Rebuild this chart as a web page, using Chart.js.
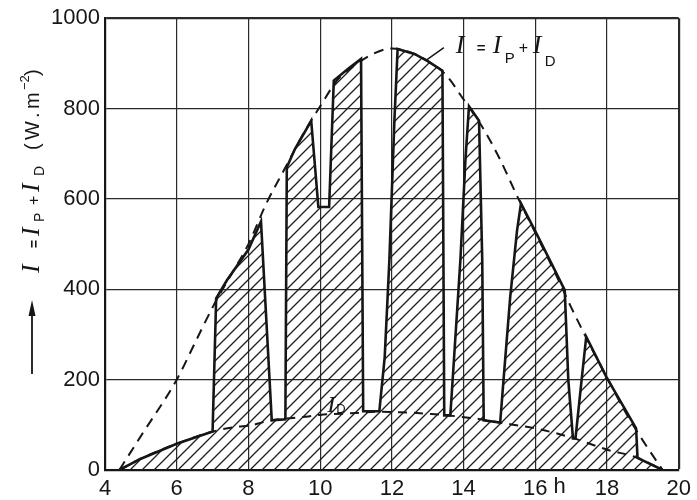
<!DOCTYPE html>
<html>
<head>
<meta charset="utf-8">
<script src="https://cdn.jsdelivr.net/npm/chart.js@4.4.1/dist/chart.umd.min.js"></script>
<style>
  html, body { margin: 0; padding: 0; background: #ffffff; }
  #wrap { width: 697px; height: 500px; position: relative; }
</style>
</head>
<body>
<div id="wrap"><canvas id="c" width="697" height="500"></canvas></div>
<script>
// Clear-sky global irradiance envelope, I = I_P + I_D (W/m²) vs. hour of day
const clearHours = [4.4, 5, 6, 6.5, 7, 7.5, 8, 8.5, 9, 9.5, 10, 10.5, 11, 11.5, 12, 12.5, 13, 13.5, 14, 14.5, 15, 15.5, 16, 16.5, 17, 17.5, 18, 18.5, 19, 19.55];
const clearIrradiance = [0, 75, 200, 280, 360, 430, 500, 590, 665, 740, 805, 865, 898, 922, 933, 925, 905, 875, 820, 762, 690, 605, 525, 445, 360, 280, 205, 130, 65, 0];

// Diffuse component I_D
const diffuseHours = [4.4, 5, 6, 7, 7.7, 8, 8.65, 9.6, 10, 11, 11.6, 12.2, 13.1, 13.9, 14.5, 15, 16, 17, 18, 18.85, 19.55];
const diffuseIrradiance = [0, 25, 58, 85, 96, 98, 110, 118, 122, 126, 129, 128, 124, 118, 112, 105, 92, 72, 45, 27, 0];

// Measured global irradiance on a day with passing clouds
const measuredHours = [4.4, 5, 6, 7.0, 7.1, 7.4, 8.0, 8.35, 8.65, 9.03, 9.07, 9.3, 9.75, 9.95, 10.25, 10.38, 10.78, 11.14, 11.2, 11.65, 11.8, 11.93, 12.07, 12.16, 12.63, 13.0, 13.41, 13.46, 13.63, 13.73, 13.91, 14.05, 14.15, 14.43, 14.52, 14.56, 15.02, 15.12, 15.3, 15.49, 15.6, 16.04, 16.4, 16.82, 16.92, 17.05, 17.12, 17.29, 17.42, 17.98, 18.81, 18.85, 19.55];
const measuredIrradiance = [0, 25, 58, 85, 380, 420, 488, 550, 110, 112, 670, 711, 773, 582, 582, 862, 888, 910, 130, 130, 250, 464, 773, 932, 921, 905, 884, 121, 121, 243, 464, 685, 805, 773, 464, 110, 105, 206, 383, 530, 590, 522, 465, 398, 199, 70, 70, 199, 295, 206, 92, 27, 0];

// Axis ticks
const hourTicks = [4, 6, 8, 10, 12, 14, 16, 18, 20];
const irradianceTicks = [0, 200, 400, 600, 800, 1000];

const ink = '#161616';
const toPoints = (xs, ys) => xs.map((x, i) => ({ x: x, y: ys[i] }));

function makeHatch(ctx) {
  const s = 12;
  const c = document.createElement('canvas');
  c.width = s; c.height = s;
  const g = c.getContext('2d');
  g.strokeStyle = '#1e1e1e';
  g.lineWidth = 1.3;
  g.beginPath();
  g.moveTo(-2, s + 2); g.lineTo(s + 2, -2);
  g.moveTo(-2, 2); g.lineTo(2, -2);
  g.moveTo(s - 2, s + 2); g.lineTo(s + 2, s - 2);
  g.stroke();
  return ctx.createPattern(c, 'repeat');
}

// Draw text pieces placed at offsets along a (possibly rotated) baseline
function drawRuns(ctx, runs, x, y, angle) {
  ctx.save();
  ctx.translate(x, y);
  ctx.rotate(angle);
  ctx.fillStyle = ink;
  ctx.textBaseline = 'alphabetic';
  ctx.textAlign = 'left';
  for (const r of runs) {
    ctx.font = r.font;
    ctx.fillText(r.t, r.at, r.dy || 0);
  }
  ctx.restore();
}

const italic = (px) => 'italic ' + px + 'px "Liberation Serif"';
const sans = (px) => px + 'px "Liberation Sans"';

const annotations = {
  id: 'annotations',
  afterDraw(chart) {
    const ctx = chart.ctx;
    const xs = chart.scales.x, ys = chart.scales.y;

    // vertical axis title with arrow
    ctx.save();
    ctx.strokeStyle = ink; ctx.fillStyle = ink; ctx.lineWidth = 1.8;
    ctx.beginPath(); ctx.moveTo(32, 374); ctx.lineTo(32, 312); ctx.stroke();
    ctx.beginPath(); ctx.moveTo(32, 300); ctx.lineTo(28.5, 316); ctx.lineTo(35.5, 316); ctx.closePath(); ctx.fill();
    ctx.restore();
    drawRuns(ctx, [
      { t: 'I', font: italic(26), at: 0 },
      { t: '=', font: 'bold ' + sans(14), at: 25 },
      { t: 'I', font: italic(26), at: 37 },
      { t: 'P', font: sans(14), dy: 5, at: 51 },
      { t: '+', font: sans(16), at: 68 },
      { t: 'I', font: italic(26), at: 81 },
      { t: 'D', font: sans(14), dy: 5, at: 97 },
      { t: '(', font: sans(20), at: 123 },
      { t: 'W', font: sans(20), at: 133 },
      { t: '.', font: sans(20), at: 155 },
      { t: 'm', font: sans(20), at: 164 },
      { t: '−2', font: sans(13), dy: -10, at: 183 },
      { t: ')', font: sans(20), at: 197 }
    ], 39, 273, -Math.PI / 2);

    // curve labels
    drawRuns(ctx, [
      { t: 'I', font: italic(26), at: 0 },
      { t: '=', font: 'bold ' + sans(15), at: 21 },
      { t: 'I', font: italic(26), at: 37 },
      { t: 'P', font: sans(15), dy: 10, at: 49 },
      { t: '+', font: sans(16), at: 63 },
      { t: 'I', font: italic(26), at: 77 },
      { t: 'D', font: sans(15), dy: 13, at: 89 }
    ], xs.getPixelForValue(13.78), ys.getPixelForValue(922), 0);

    drawRuns(ctx, [
      { t: 'I', font: italic(24), at: 0 },
      { t: 'D', font: sans(13), dy: 1, at: 9 }
    ], xs.getPixelForValue(10.2), ys.getPixelForValue(128), 0);

    // leader from envelope to its label
    ctx.save();
    ctx.strokeStyle = ink; ctx.lineWidth = 1.5;
    ctx.beginPath();
    ctx.moveTo(xs.getPixelForValue(12.97), ys.getPixelForValue(908));
    ctx.lineTo(xs.getPixelForValue(13.45), ys.getPixelForValue(935));
    ctx.stroke();
    ctx.restore();

    // unit after the 16 h tick
    ctx.save();
    ctx.font = sans(22); ctx.fillStyle = ink; ctx.textBaseline = 'top'; ctx.textAlign = 'left';
    const w16 = ctx.measureText('16').width;
    ctx.fillText('h', xs.getPixelForValue(16) + w16 / 2 + 6, xs.top + 6);
    ctx.restore();
  }
};

const canvas = document.getElementById('c');
const ctx2d = canvas.getContext('2d');
const hatch = makeHatch(ctx2d);

new Chart(canvas, {
  type: 'scatter',
  data: {
    datasets: [
      {
        label: 'I',
        data: toPoints(measuredHours, measuredIrradiance),
        showLine: true,
        borderColor: ink,
        borderWidth: 2.6,
        backgroundColor: hatch,
        fill: 'origin',
        tension: 0,
        pointRadius: 0,
        order: 3
      },
      {
        label: 'I_D',
        data: toPoints(diffuseHours, diffuseIrradiance),
        showLine: true,
        borderColor: ink,
        borderWidth: 2,
        borderDash: [9, 7],
        cubicInterpolationMode: 'monotone',
        fill: false,
        pointRadius: 0,
        order: 2
      },
      {
        label: 'I = I_P + I_D',
        data: toPoints(clearHours, clearIrradiance),
        showLine: true,
        borderColor: ink,
        borderWidth: 2,
        borderDash: [10, 7],
        cubicInterpolationMode: 'monotone',
        fill: false,
        pointRadius: 0,
        order: 1
      }
    ]
  },
  options: {
    responsive: false,
    animation: false,
    layout: { padding: { left: 0, top: 17, right: 14, bottom: 0 } },
    plugins: { legend: { display: false }, tooltip: { enabled: false }, title: { display: false } },
    scales: {
      x: {
        type: 'linear',
        min: 4, max: 20,
        afterBuildTicks: (s) => { s.ticks = hourTicks.map(v => ({ value: v })); },
        afterFit: (s) => { s.height = 30; },
        grid: {
          color: '#2a2a2a',
          lineWidth: (c) => (c.tick && c.tick.value === 20 ? 2.2 : 1.2),
          drawTicks: false
        },
        border: { display: true, color: ink, width: 2.2 },
        ticks: {
          padding: 6,
          color: ink,
          font: { family: 'Liberation Sans', size: 22 },
          maxRotation: 0,
          autoSkip: false,
          callback: (v) => String(v)
        }
      },
      y: {
        min: 0, max: 1000,
        afterBuildTicks: (s) => { s.ticks = irradianceTicks.map(v => ({ value: v })); },
        afterFit: (s) => { s.width = 105; },
        grid: {
          color: '#2a2a2a',
          lineWidth: (c) => (c.tick && c.tick.value === 1000 ? 2.2 : 1.2),
          drawTicks: false
        },
        border: { display: true, color: ink, width: 2.2 },
        ticks: {
          padding: 5,
          color: ink,
          font: { family: 'Liberation Sans', size: 22 },
          autoSkip: false,
          callback: (v) => String(v)
        }
      }
    }
  },
  plugins: [annotations]
});
</script>
</body>
</html>
